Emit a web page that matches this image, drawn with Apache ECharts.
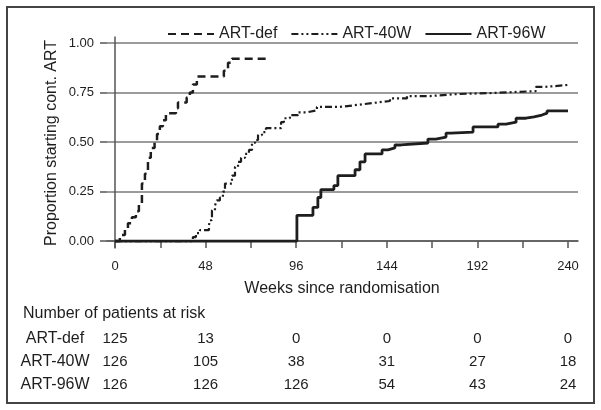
<!DOCTYPE html>
<html>
<head>
<meta charset="utf-8">
<script src="https://cdn.jsdelivr.net/npm/echarts@6/dist/echarts.min.js"></script>
<style>
html,body{margin:0;padding:0;background:#fff;}
#chart{width:601px;height:410px;}
</style>
</head>
<body>
<div id="chart"></div>
<script>
// ---- data ----
const seriesNames = ['ART-def', 'ART-40W', 'ART-96W'];

const weeksDef = [0, 2.6, 5.3, 6.9, 9, 11.1, 12.7, 14.3, 15.9, 17.5, 19, 21, 22.3, 23.8, 25.4, 27, 32.3, 33.4, 38, 39.7, 41.3, 43.4, 57.7, 59.9, 62, 80.5];
const propDef  = [0, 0.03, 0.06, 0.09, 0.12, 0.15, 0.19, 0.29, 0.34, 0.42, 0.47, 0.50, 0.54, 0.58, 0.61, 0.645, 0.67, 0.70, 0.725, 0.75, 0.79, 0.83, 0.86, 0.90, 0.92, 0.92];

const weeks40 = [0, 41.3, 42.9, 45, 49.8, 50.3, 51.4, 53, 54, 55.6, 57.2, 58.3, 62, 63.6, 65.2, 66.8, 68.9, 71, 72.6, 74.2, 75.8, 77.9, 80, 88, 89.5, 92.7, 97, 101.7, 107, 119.2, 128.2, 136.7, 145.7, 154.7, 166.9, 181.2, 198.7, 223, 227.8, 240];
const prop40  = [0, 0.02, 0.04, 0.055, 0.08, 0.105, 0.155, 0.18, 0.205, 0.22, 0.25, 0.29, 0.33, 0.375, 0.40, 0.42, 0.44, 0.46, 0.495, 0.51, 0.535, 0.55, 0.57, 0.60, 0.62, 0.636, 0.65, 0.66, 0.677, 0.687, 0.697, 0.707, 0.72, 0.732, 0.742, 0.747, 0.757, 0.778, 0.788, 0.788];

const weeks96 = [0, 96.4, 104.9, 107.5, 109.1, 116, 118.1, 127.2, 129.8, 132.5, 141.5, 144.6, 148.3, 151.5, 165.8, 170, 175.4, 178, 189.7, 202.9, 207.2, 212.5, 217.7, 222, 226.2, 228.9, 240];
const prop96  = [0, 0.13, 0.17, 0.22, 0.26, 0.28, 0.33, 0.36, 0.40, 0.44, 0.46, 0.47, 0.485, 0.495, 0.515, 0.525, 0.545, 0.55, 0.576, 0.59, 0.60, 0.62, 0.627, 0.636, 0.646, 0.657, 0.657];

const xTicks = [0, 48, 96, 144, 192, 240];
const yTicks = [0, 0.25, 0.5, 0.75, 1];

const riskTitle = 'Number of patients at risk';
const riskWeeks = [0, 48, 96, 144, 192, 240];
const riskDef = [125, 13, 0, 0, 0, 0];
const risk40  = [126, 105, 38, 31, 27, 18];
const risk96  = [126, 126, 126, 54, 43, 24];

const xTitle = 'Weeks since randomisation';
const yTitle = 'Proportion starting cont. ART';

// ---- chart ----
const FONT = "'Liberation Sans', Arial, Helvetica, sans-serif";
const INK = '#1e1e1e';
const zip = (a, b) => a.map((v, i) => [v, b[i]]);

const chart = echarts.init(document.getElementById('chart'), null, {renderer: 'canvas'});

const lineBase = {
  type: 'line', step: 'end', symbol: 'none', showSymbol: false,
  xAxisIndex: 0, yAxisIndex: 0, animation: false, z: 3
};

chart.setOption({
  animation: false,
  backgroundColor: '#ffffff',
  textStyle: {fontFamily: FONT},
  legend: {
    left: 162, top: 21,
    itemWidth: 46, itemHeight: 14, itemGap: 13,
    itemStyle: {color: 'rgba(0,0,0,0)', borderColor: 'rgba(0,0,0,0)', borderWidth: 0, opacity: 0},
    textStyle: {fontSize: 16, color: INK, fontFamily: FONT},
    data: seriesNames
  },
  grid: [
    {left: 107, right: 23, top: 37, bottom: 162},
    {left: 107, right: 23, top: 43, bottom: 169},
    {left: 115, right: 33, top: 43, bottom: 169}
  ],
  xAxis: [
    {gridIndex: 0, type: 'value', min: -4.2, max: 245.3,
     axisLine: {show: true, lineStyle: {color: '#555', width: 1.5}},
     axisTick: {show: false}, axisLabel: {show: false}, splitLine: {show: false}},
    {gridIndex: 1, type: 'value', min: 0, max: 1, show: false},
    {gridIndex: 2, type: 'value', min: 0, max: 240, interval: 24, offset: 7,
     axisLine: {show: false},
     axisTick: {show: true, length: 7, lineStyle: {color: '#555', width: 1.5}},
     axisLabel: {show: true, margin: 12, fontSize: 13, color: INK, fontFamily: FONT,
       formatter: v => (xTicks.indexOf(v) >= 0 ? String(v) : '')},
     splitLine: {show: false}}
  ],
  yAxis: [
    {gridIndex: 0, type: 'value', min: -0.035, max: 1.03,
     axisLine: {show: true, lineStyle: {color: '#555', width: 1.5}},
     axisTick: {show: false}, axisLabel: {show: false}, splitLine: {show: false}},
    {gridIndex: 1, type: 'value', min: 0, max: 1, interval: 0.25,
     axisLine: {show: false},
     axisTick: {show: true, length: 7, lineStyle: {color: '#555', width: 1.5}},
     axisLabel: {show: true, margin: 13, fontSize: 13, color: INK, fontFamily: FONT,
       formatter: v => (yTicks.indexOf(v) >= 0 ? v.toFixed(2) : '')},
     splitLine: {show: true, lineStyle: {color: '#7a7a7a', width: 1.5}}},
    {gridIndex: 2, type: 'value', min: 0, max: 1, show: false}
  ],
  series: [
    Object.assign({}, lineBase, {
      name: seriesNames[0], data: zip(weeksDef, propDef),
      lineStyle: {color: INK, width: 2.5, type: [8, 5]}, itemStyle: {color: INK}
    }),
    Object.assign({}, lineBase, {
      name: seriesNames[1], data: zip(weeks40, prop40),
      lineStyle: {color: INK, width: 2.2, type: [7, 3, 2, 3, 2, 3]}, itemStyle: {color: INK}
    }),
    Object.assign({}, lineBase, {
      name: seriesNames[2], data: zip(weeks96, prop96),
      lineStyle: {color: INK, width: 2.8, type: 'solid'}, itemStyle: {color: INK}
    })
  ]
});

// ---- graphics: border, axis titles, risk table ----
const g = [];
g.push({type: 'rect', shape: {x: 7, y: 7, width: 587, height: 396},
  style: {fill: 'none', stroke: '#444', lineWidth: 2}, z: 0, silent: true});
g.push({type: 'text', x: 52, y: 143, rotation: Math.PI / 2,
  style: {text: yTitle, font: '16px ' + FONT, fill: INK, textAlign: 'center', textVerticalAlign: 'middle'}});
g.push({type: 'text', x: 342, y: 289,
  style: {text: xTitle, font: '16px ' + FONT, fill: INK, textAlign: 'center', textVerticalAlign: 'middle'}});
g.push({type: 'text', x: 23, y: 314,
  style: {text: riskTitle, font: '16px ' + FONT, fill: INK, textAlign: 'left', textVerticalAlign: 'middle'}});

const rows = [[seriesNames[0], riskDef, 339], [seriesNames[1], risk40, 362], [seriesNames[2], risk96, 385]];
rows.forEach(([label, vals, y]) => {
  g.push({type: 'text', x: 55, y: y,
    style: {text: label, font: '16px ' + FONT, fill: INK, textAlign: 'center', textVerticalAlign: 'middle'}});
  riskWeeks.forEach((w, i) => {
    const px = chart.convertToPixel({xAxisIndex: 2}, w);
    g.push({type: 'text', x: px, y: y,
      style: {text: String(vals[i]), font: '15px ' + FONT, fill: INK, textAlign: 'center', textVerticalAlign: 'middle'}});
  });
});
chart.setOption({graphic: g});
</script>
</body>
</html>
